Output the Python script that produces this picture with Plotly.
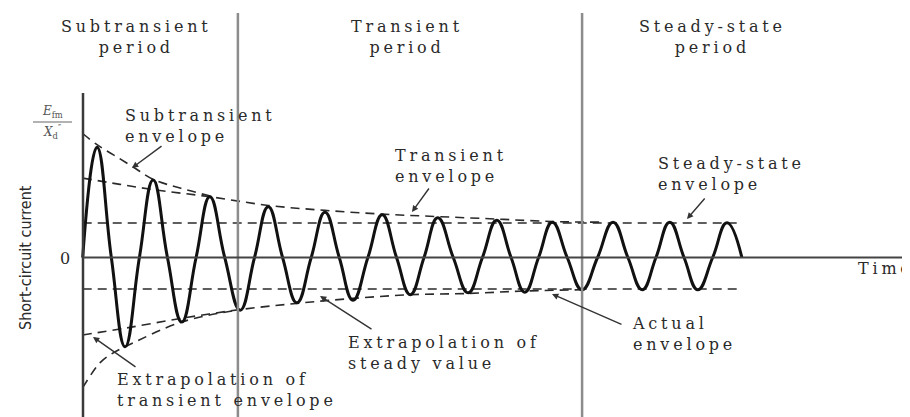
import plotly.graph_objects as go

# ---------------- data (time in cycles, current in p.u. of Efm/X''d) ----------------
extrema_t = [0.25, 0.74, 1.23, 1.73, 2.22, 2.75, 3.24, 3.74, 4.23, 4.72, 5.23, 5.72,
             6.20, 6.73, 7.23, 7.72, 8.20, 8.72, 9.26, 9.77, 10.25, 10.74, 11.25]
extrema_v = [0.89, -0.72, 0.625, -0.52, 0.49, -0.425, 0.41, -0.365, 0.365, -0.345, 0.345, -0.30,
             0.32, -0.285, 0.30, -0.28, 0.285, -0.26, 0.285, -0.26, 0.285, -0.26, 0.28]
zero_t = [0.00, 0.50, 0.99, 1.48, 1.98, 2.48, 3.00, 3.49, 3.99, 4.48, 4.98, 5.48,
          5.96, 6.47, 6.98, 7.48, 7.96, 8.46, 8.99, 9.52, 10.01, 10.50, 11.00, 11.51]

sub_up_t = [0.00, 0.25, 0.53, 0.88, 1.23, 1.70, 2.28]
sub_up_v = [1.00, 0.91, 0.83, 0.73, 0.63, 0.56, 0.49]
sub_lo_t = [0.00, 0.30, 0.53, 0.74, 1.73, 2.75]
sub_lo_v = [-1.05, -0.85, -0.77, -0.72, -0.52, -0.42]
tr_up_t = [0.00, 0.65, 1.35, 2.22, 3.24, 4.23, 5.23, 6.20, 7.23, 8.20, 9.03]
tr_up_v = [0.64, 0.59, 0.54, 0.49, 0.42, 0.38, 0.35, 0.33, 0.31, 0.29, 0.285]
tr_lo_t = [0.00, 0.74, 1.73, 2.75, 3.74, 4.72, 5.72, 6.73, 7.72, 8.72]
tr_lo_v = [-0.625, -0.57, -0.49, -0.42, -0.37, -0.33, -0.30, -0.29, -0.27, -0.26]
steady_t = [0.0, 11.51]
steady_up = [0.278, 0.278]
steady_lo = [-0.254, -0.254]
period_bounds = [2.71, 8.72]

# --------------- geometry helpers (page pixel -> axis units for label placement) ---------------
# the page body has an 8px margin, so the figure starts at page pixel (8, 8)
OFF = 8
X0, XS, Y0, YS = 82.7, 57.27, 257.5, 124.0
def X(px):
    return (px - X0) / XS
def Y(py):
    return (Y0 - py) / YS

pts = sorted([(t, v) for t, v in zip(extrema_t, extrema_v)] + [(t, 0.0) for t in zero_t])
wave_t = [p[0] for p in pts]
wave_v = [p[1] for p in pts]

fig = go.Figure()
DASH = "9px,6px"
DC = "#2a2a2a"
for tx, vy in [(sub_up_t, sub_up_v), (sub_lo_t, sub_lo_v), (tr_up_t, tr_up_v),
               (tr_lo_t, tr_lo_v), (steady_t, steady_up), (steady_t, steady_lo)]:
    fig.add_trace(go.Scatter(x=tx, y=vy, mode="lines", line=dict(color=DC, width=1.6, dash=DASH, shape="spline"),
                             hoverinfo="skip", showlegend=False))
fig.add_trace(go.Scatter(x=wave_t, y=wave_v, mode="lines",
                         line=dict(color="#111", width=3, shape="spline", smoothing=1.3),
                         showlegend=False))

shapes = []
for b in period_bounds:
    shapes.append(dict(type="line", xref="x", yref="y", x0=b, x1=b, y0=Y(430), y1=Y(13),
                       line=dict(color="#8c8c8c", width=2.5)))
shapes.append(dict(type="line", xref="x", yref="y", x0=X(83), x1=X(83), y0=Y(430), y1=Y(93),
                   line=dict(color="#3a3a3a", width=2.5)))
shapes.append(dict(type="line", xref="x", yref="y", x0=X(83), x1=X(920), y0=0, y1=0,
                   line=dict(color="#444", width=1.8)))
shapes.append(dict(type="line", xref="x", yref="y", x0=X(33), x1=X(72), y0=Y(122), y1=Y(122),
                   line=dict(color="#666", width=1.2)))

SERIF = "DejaVu Serif"
TC = "#2a2a2a"
LS = 3.8

def sp(s):
    return "<br>".join('<span style="letter-spacing:%.1fpx">%s</span>' % (LS, line) for line in s.split("\n"))

ann = []
def label(text, px, py, anchor="left", size=16):
    ann.append(dict(x=X(px), y=Y(py), xref="x", yref="y", text=sp(text), showarrow=False,
                    xanchor=anchor, yanchor="middle", align=anchor,
                    font=dict(family=SERIF, size=size, color=TC)))

label("Subtransient\nperiod", 136, 37, "center")
label("Transient\nperiod", 407, 37, "center")
label("Steady-state\nperiod", 712, 37, "center")
label("Subtransient\nenvelope", 123, 126)
label("Transient\nenvelope", 393, 166)
label("Steady-state\nenvelope", 656, 174)
label("Actual\nenvelope", 630, 334)
label("Extrapolation of\nsteady value", 346, 353)
label("Extrapolation of\ntransient envelope", 115, 390)
label("Time", 856, 268)
ann.append(dict(x=X(65), y=Y(258), xref="x", yref="y", text="0", showarrow=False,
                font=dict(family=SERIF, size=16, color=TC)))
ann.append(dict(x=X(25), y=Y(258), xref="x", yref="y", text="Short-circuit current", textangle=-90,
                showarrow=False, font=dict(family="Liberation Sans Narrow, DejaVu Sans Condensed", size=16, color=TC)))
ann.append(dict(x=X(52), y=Y(112), xref="x", yref="y", text="<i>E</i><sub>fm</sub>", showarrow=False,
                font=dict(family=SERIF, size=12, color="#555")))
ann.append(dict(x=X(52), y=Y(132), xref="x", yref="y", text="<i>X</i><sub>d</sub><sup>″</sup>", showarrow=False,
                font=dict(family=SERIF, size=12, color="#555")))

for (tx, ty, hx, hy) in [(163, 145, 132, 168), (430, 187, 412, 212), (706, 197, 687, 219),
                         (623, 325, 552, 294), (373, 330, 320, 296), (137, 368, 93, 337)]:
    ann.append(dict(x=X(hx), y=Y(hy), ax=X(tx), ay=Y(ty), xref="x", yref="y", axref="x", ayref="y",
                    text="", showarrow=True, arrowhead=2, arrowsize=0.9, arrowwidth=1.4, arrowcolor="#333"))

fig.update_layout(
    width=910, height=417, margin=dict(l=0, r=0, t=0, b=0),
    paper_bgcolor="white", plot_bgcolor="white",
    xaxis=dict(range=[X(OFF), X(910 + OFF)], visible=False, fixedrange=True),
    yaxis=dict(range=[Y(417 + OFF), Y(OFF)], visible=False, fixedrange=True),
    shapes=shapes, annotations=ann, showlegend=False,
)
fig.write_html("out.html")
